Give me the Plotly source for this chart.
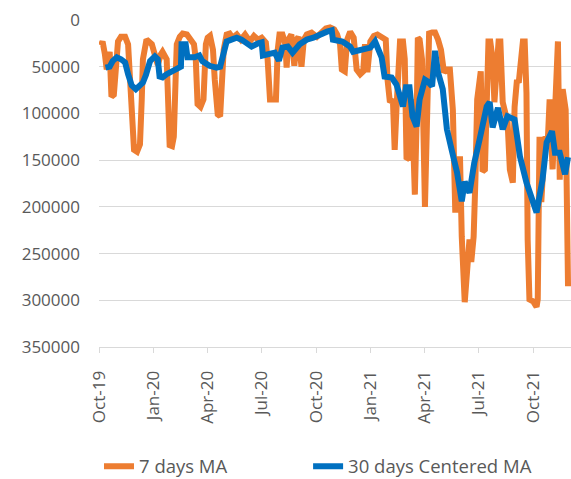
import plotly.graph_objects as go

# 7 days moving average (orange)
ma7_dates = [
    "2019-10-04", "2019-10-07", "2019-10-11", "2019-10-14", "2019-10-19", "2019-10-22", "2019-10-26", "2019-10-29",
    "2019-11-02", "2019-11-07", "2019-11-14", "2019-11-19", "2019-11-24", "2019-11-29", "2019-12-04", "2019-12-09",
    "2019-12-12", "2019-12-14", "2019-12-20", "2019-12-29", "2020-01-03", "2020-01-08", "2020-01-13", "2020-01-16",
    "2020-01-23", "2020-01-28", "2020-02-01", "2020-02-04", "2020-02-07", "2020-02-09", "2020-02-14", "2020-02-19",
    "2020-02-26", "2020-03-02", "2020-03-09", "2020-03-12", "2020-03-15", "2020-03-20", "2020-03-25", "2020-03-29",
    "2020-04-01", "2020-04-05", "2020-04-10", "2020-04-13", "2020-04-18", "2020-04-22", "2020-04-25", "2020-04-28",
    "2020-05-03", "2020-05-08", "2020-05-13", "2020-05-20", "2020-05-27", "2020-06-03", "2020-06-11", "2020-06-18",
    "2020-06-25", "2020-07-01", "2020-07-08", "2020-07-11", "2020-07-15", "2020-07-20", "2020-07-25", "2020-07-28",
    "2020-07-31", "2020-08-05", "2020-08-10", "2020-08-12", "2020-08-15", "2020-08-20", "2020-08-25", "2020-08-29",
    "2020-09-01", "2020-09-06", "2020-09-10", "2020-09-15", "2020-09-23", "2020-10-02", "2020-10-10", "2020-10-17",
    "2020-10-24", "2020-10-31", "2020-11-05", "2020-11-10", "2020-11-13", "2020-11-18", "2020-11-22", "2020-11-27",
    "2020-12-03", "2020-12-08", "2020-12-14", "2020-12-19", "2020-12-22", "2020-12-26", "2020-12-31", "2021-01-06",
    "2021-01-12", "2021-01-21", "2021-01-26", "2021-01-29", "2021-02-02", "2021-02-07", "2021-02-10", "2021-02-13",
    "2021-02-19", "2021-02-24", "2021-02-27", "2021-03-02", "2021-03-07", "2021-03-11", "2021-03-16", "2021-03-19",
    "2021-03-21", "2021-03-24", "2021-03-28", "2021-04-02", "2021-04-05", "2021-04-09", "2021-04-14", "2021-04-19",
    "2021-04-24", "2021-04-29", "2021-05-04", "2021-05-09", "2021-05-14", "2021-05-19", "2021-05-23", "2021-05-28",
    "2021-05-31", "2021-06-03", "2021-06-08", "2021-06-11", "2021-06-13", "2021-06-16", "2021-06-19", "2021-06-23",
    "2021-06-26", "2021-06-29", "2021-07-05", "2021-07-08", "2021-07-12", "2021-07-15", "2021-07-18", "2021-07-21",
    "2021-07-25", "2021-07-28", "2021-08-01", "2021-08-04", "2021-08-07", "2021-08-11", "2021-08-16", "2021-08-19",
    "2021-08-23", "2021-08-28", "2021-08-31", "2021-09-04", "2021-09-07", "2021-09-10", "2021-09-14", "2021-09-17",
    "2021-09-20", "2021-09-22", "2021-09-25", "2021-10-01", "2021-10-04", "2021-10-07", "2021-10-09", "2021-10-12",
    "2021-10-15", "2021-10-21", "2021-10-26", "2021-10-29", "2021-11-03", "2021-11-08", "2021-11-12", "2021-11-15",
    "2021-11-20", "2021-11-25", "2021-11-29",
]
ma7_values = [
    27000, 23000, 37000, 53000, 34000, 82000, 80000, 42000,
    23000, 18000, 18000, 26000, 85000, 139000, 141000, 133000,
    85000, 42000, 21000, 26000, 37000, 48000, 37000, 34000,
    42000, 134000, 135000, 125000, 64000, 26000, 18000, 14500,
    15500, 19000, 26000, 42000, 90000, 93000, 85000, 26000,
    19000, 17000, 32000, 64000, 101000, 103000, 64000, 32000,
    15500, 14500, 19000, 15500, 21000, 15500, 23000, 17000,
    21000, 19000, 24000, 42000, 85000, 85000, 85000, 32000,
    15500, 15500, 26000, 51000, 21000, 15500, 49000, 21000,
    18000, 50000, 21000, 15500, 13500, 18000, 13500, 9000,
    8000, 10000, 15500, 26000, 53000, 55000, 21000, 12500,
    19000, 53000, 58000, 55000, 26000, 56000, 23000, 17000,
    15500, 18000, 21000, 64000, 88000, 85000, 139000, 96000,
    23000, 23000, 42000, 149000, 147000, 85000, 187000, 107000,
    19000, 21000, 42000, 200000, 139000, 14500, 13500, 13500,
    21000, 32000, 56000, 53000, 53000, 96000, 203000, 203000,
    146000, 232000, 302000, 278000, 251000, 235000, 259000, 232000,
    171000, 85000, 55000, 162000, 160000, 42000, 23000, 23000,
    42000, 88000, 53000, 23000, 23000, 88000, 101000, 107000,
    160000, 174000, 93000, 64000, 67000, 42000, 23000, 23000,
    78000, 235000, 299000, 301000, 305000, 307000, 299000, 125000,
    195000, 125000, 128000, 85000, 160000, 74000, 23000, 171000,
    74000, 96000, 285000,
]

# 30 days centered moving average (blue)
ma30_dates = [
    "2019-10-12", "2019-10-19", "2019-10-24", "2019-10-31", "2019-11-07", "2019-11-14", "2019-11-19", "2019-11-25",
    "2019-12-02", "2019-12-09", "2019-12-14", "2019-12-19", "2019-12-26", "2020-01-03", "2020-01-08", "2020-01-11",
    "2020-01-16", "2020-01-23", "2020-02-01", "2020-02-09", "2020-02-16", "2020-02-17", "2020-02-24", "2020-02-27",
    "2020-03-10", "2020-03-18", "2020-03-23", "2020-04-04", "2020-04-16", "2020-04-22", "2020-04-25", "2020-05-03",
    "2020-05-11", "2020-05-20", "2020-05-28", "2020-06-06", "2020-06-14", "2020-06-25", "2020-07-01", "2020-07-03",
    "2020-07-15", "2020-07-23", "2020-07-30", "2020-08-05", "2020-08-14", "2020-08-22", "2020-09-03", "2020-09-15",
    "2020-09-26", "2020-10-07", "2020-10-19", "2020-10-27", "2020-10-29", "2020-11-14", "2020-11-27", "2020-12-02",
    "2020-12-19", "2020-12-31", "2021-01-08", "2021-01-12", "2021-01-19", "2021-01-24", "2021-02-05", "2021-02-13",
    "2021-02-19", "2021-02-24", "2021-03-01", "2021-03-07", "2021-03-12", "2021-03-19", "2021-03-24", "2021-04-02",
    "2021-04-07", "2021-04-14", "2021-04-19", "2021-04-24", "2021-05-02", "2021-05-09", "2021-05-17", "2021-05-26",
    "2021-06-03", "2021-06-08", "2021-06-16", "2021-06-24", "2021-07-03", "2021-07-15", "2021-07-20", "2021-07-25",
    "2021-08-03", "2021-08-11", "2021-08-19", "2021-08-31", "2021-09-09", "2021-09-20", "2021-10-07", "2021-10-17",
    "2021-10-24", "2021-11-02", "2021-11-07", "2021-11-15", "2021-11-24", "2021-11-29",
]
ma30_values = [
    51000, 50000, 44000, 40000, 42000, 45500, 58000, 70000,
    74000, 71000, 67000, 59000, 44000, 39000, 42000, 60500,
    61500, 58000, 55000, 51000, 50000, 26000, 26000, 40000,
    40000, 38000, 44000, 49000, 51000, 50000, 42000, 23000,
    21000, 19000, 21000, 26000, 28500, 25000, 24000, 38000,
    37000, 35000, 43500, 29500, 28500, 35000, 26000, 21000,
    19000, 15500, 12500, 11000, 21000, 23000, 28500, 34000,
    31500, 29500, 23000, 28500, 40000, 60500, 61500, 69000,
    82000, 92500, 72000, 72000, 103000, 114000, 85000, 64000,
    66000, 71000, 33000, 56000, 74000, 117000, 139000, 163000,
    194000, 173000, 185000, 153000, 128000, 92500, 88000, 115000,
    94000, 117000, 103000, 106500, 146000, 174000, 206000, 171000,
    131000, 119000, 142000, 142000, 165000, 147000,
]

y_ticks = [0, 50000, 100000, 150000, 200000, 250000, 300000, 350000]

GRID = "#d9d9d9"
TXT = "#595959"
FONT = "Open Sans"

fig = go.Figure()
fig.add_trace(go.Scatter(
    x=ma7_dates, y=ma7_values, mode="lines", name="7 days MA",
    line=dict(color="#ED7D31", width=6), legend="legend",
))
fig.add_trace(go.Scatter(
    x=ma30_dates, y=ma30_values, mode="lines", name="30 days Centered MA",
    line=dict(color="#0070C0", width=6), legend="legend2",
))

legend_common = dict(
    orientation="h", xanchor="left", yanchor="middle",
    font=dict(family=FONT, size=18.5, color=TXT),
    bgcolor="rgba(0,0,0,0)",
)

fig.update_layout(
    width=571, height=479,
    margin=dict(l=99, r=0, t=20, b=132, pad=0, autoexpand=False),
    paper_bgcolor="white", plot_bgcolor="white",
    font=dict(family=FONT, size=17, color=TXT),
    showlegend=True,
    legend=dict(x=0.0, y=-0.366, **legend_common),
    legend2=dict(x=0.443, y=-0.366, **legend_common),
)
fig.update_xaxes(
    type="date",
    range=["2019-10-01", "2021-12-04"],
    tick0="2019-10-01", dtick="M3", tickformat="%b-%y",
    tickangle=-90,
    showgrid=False,
    showline=True, linecolor=GRID, linewidth=1,
    ticks="outside", ticklen=5, tickcolor=GRID, tickwidth=1,
    ticklabelstandoff=11,
    tickfont=dict(family=FONT, size=17, color=TXT),
    zeroline=False,
)
fig.update_yaxes(
    range=[350000, 0],
    tickvals=y_ticks, tickformat="d",
    showgrid=True, gridcolor=GRID, gridwidth=1,
    showline=False, zeroline=False,
    ticks="", ticklabelstandoff=18,
    tickfont=dict(family=FONT, size=17, color=TXT),
)

fig.write_html(
    "out.html",
    config={"displayModeBar": False},
    post_script="document.body.style.margin='0';",
)
